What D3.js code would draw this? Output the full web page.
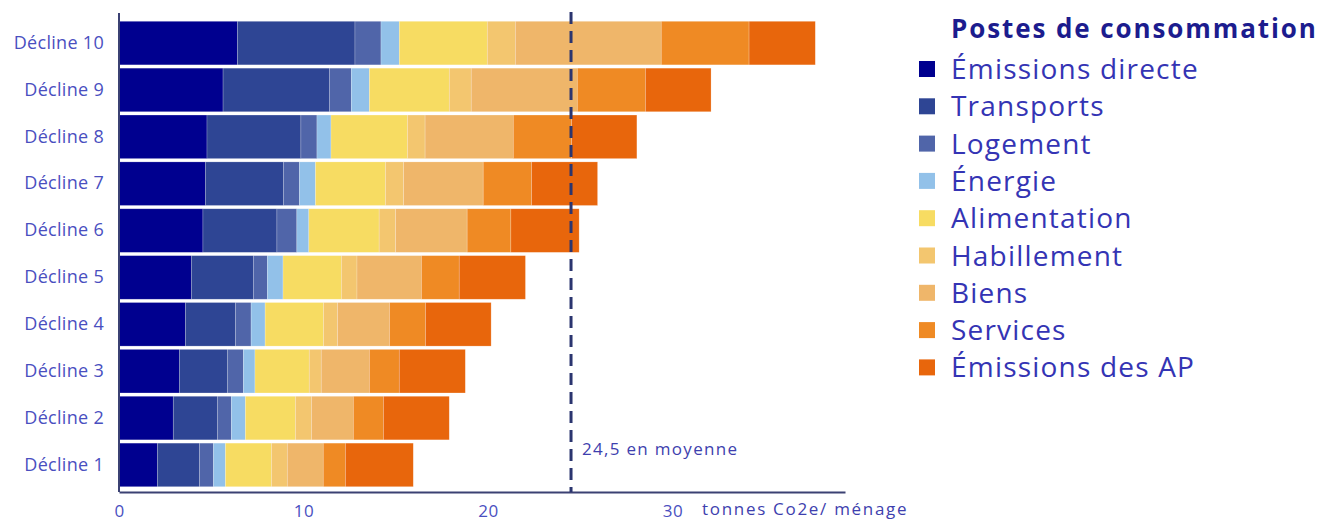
<!DOCTYPE html>
<html>
<head>
<meta charset="utf-8">
<script src="https://cdn.jsdelivr.net/npm/d3@7"></script>
<style>
  body { margin: 0; background: #fff; font-family: "Open Sans", sans-serif; }
</style>
</head>
<body>
<div id="chart"></div>
<script>
// categories (top to bottom)
const deciles = ['Décline 10', 'Décline 9', 'Décline 8', 'Décline 7', 'Décline 6',
                 'Décline 5', 'Décline 4', 'Décline 3', 'Décline 2', 'Décline 1'];

const postes = ['Émissions directe', 'Transports', 'Logement', 'Énergie', 'Alimentation',
                'Habillement', 'Biens', 'Services', 'Émissions des AP'];

const colors = ['#00008f', '#2e4594', '#5065a9', '#92c1e9', '#f7dc62',
                '#f3c66f', '#efb66a', '#ef8a24', '#e8660c'];

// tonnes CO2e per poste, same order as deciles
const directe      = [6.42, 5.64, 4.77, 4.68, 4.55, 3.92, 3.60, 3.27, 2.94, 2.08];
const transports   = [6.37, 5.76, 5.09, 4.23, 4.01, 3.36, 2.71, 2.60, 2.39, 2.28];
const logement     = [1.41, 1.19, 0.87, 0.87, 1.08, 0.76, 0.85, 0.87, 0.76, 0.76];
const energie      = [0.99, 0.98, 0.76, 0.87, 0.65, 0.85, 0.76, 0.63, 0.76, 0.65];
const alimentation = [4.77, 4.33, 4.14, 3.79, 3.81, 3.16, 3.16, 2.94, 2.71, 2.49];
const habillement  = [1.52, 1.19, 0.96, 0.98, 0.89, 0.85, 0.76, 0.65, 0.87, 0.86];
const biens        = [7.91, 5.75, 4.78, 4.32, 3.88, 3.49, 2.82, 2.61, 2.27, 1.95];
const services     = [4.76, 3.69, 3.16, 2.62, 2.37, 2.05, 1.95, 1.62, 1.63, 1.20];
const emissionsAP  = [3.59, 3.56, 3.54, 3.58, 3.70, 3.59, 3.56, 3.58, 3.57, 3.68];

const moyenne = 24.5;
const xTicks = [0, 10, 20, 30];

const series = [directe, transports, logement, energie, alimentation,
                habillement, biens, services, emissionsAP];

const rows = deciles.map((d, i) => {
  const r = { decile: d };
  postes.forEach((p, j) => { r[p] = series[j][i]; });
  return r;
});

const svg = d3.select('#chart')
  .append('svg')
  .attr('width', 1323)
  .attr('height', 522);

const xScale = d3.scaleLinear()
  .domain([0, 39.35])
  .range([119, 845]);

const yScale = d3.scaleBand()
  .domain(deciles)
  .range([18, 490])
  .padding(0.07);

const stacked = d3.stack().keys(postes)(rows);
const color = d3.scaleOrdinal().domain(postes).range(colors);

// Bars
svg.append('g')
  .selectAll('g')
  .data(stacked)
  .enter()
  .append('g')
  .attr('fill', d => color(d.key))
  .selectAll('rect')
  .data(d => d)
  .enter()
  .append('rect')
  .attr('x', d => xScale(d[0]))
  .attr('y', d => yScale(d.data.decile))
  .attr('width', d => xScale(d[1]) - xScale(d[0]))
  .attr('height', yScale.bandwidth())
  .attr('stroke', '#fff')
  .attr('stroke-opacity', 0.35)
  .attr('stroke-width', 0.6);

// Axes
const axisColor = '#3b4173';
const labelColor = '#4a4fbf';

svg.append('line')
  .attr('x1', 119).attr('x2', 119)
  .attr('y1', 13).attr('y2', 492)
  .attr('stroke', axisColor)
  .attr('stroke-width', 2);

const xAxis = svg.append('g')
  .attr('transform', 'translate(0,492)')
  .call(d3.axisBottom(xScale).tickValues(xTicks).tickSize(0).tickPadding(13));
xAxis.select('.domain').attr('stroke', axisColor).attr('stroke-width', 2);
xAxis.selectAll('text')
  .attr('fill', labelColor)
  .style('font-family', '"Open Sans", sans-serif')
  .style('font-size', '17px')
  .style('letter-spacing', '0.5px');

svg.append('text')
  .attr('x', 702)
  .attr('y', 515)
  .attr('fill', '#3e3fae')
  .style('font-size', '17px')
  .style('letter-spacing', '1.7px')
  .text('tonnes Co2e/ ménage');

const yAxis = svg.append('g')
  .attr('transform', 'translate(104,0)')
  .call(d3.axisLeft(yScale).tickSize(0).tickPadding(0));
yAxis.select('.domain').remove();
yAxis.selectAll('text')
  .attr('fill', labelColor)
  .style('font-family', '"Open Sans", sans-serif')
  .style('font-size', '18px')
  .style('letter-spacing', '0.3px');

// Average line
svg.append('line')
  .attr('x1', xScale(moyenne)).attr('x2', xScale(moyenne))
  .attr('y1', 12).attr('y2', 492)
  .attr('stroke', '#2b356f')
  .attr('stroke-width', 3)
  .attr('stroke-dasharray', '12,7');

svg.append('text')
  .attr('x', xScale(moyenne) + 11)
  .attr('y', 455)
  .attr('fill', '#3e3fae')
  .style('font-size', '17px')
  .style('letter-spacing', '1.3px')
  .text('24,5 en moyenne');

// Legend
const legend = svg.append('g');

legend.append('text')
  .attr('x', 951)
  .attr('y', 38)
  .attr('fill', '#1c1c8e')
  .style('font-size', '26px')
  .style('font-weight', 'bold')
  .style('letter-spacing', '1.9px')
  .text('Postes de consommation');

const item = legend.selectAll('.item')
  .data(postes)
  .enter()
  .append('g')
  .attr('class', 'item')
  .attr('transform', (d, i) => `translate(0, ${69 + i * 37.3})`);

item.append('rect')
  .attr('x', 919)
  .attr('y', -8)
  .attr('width', 16)
  .attr('height', 16)
  .attr('fill', d => color(d));

item.append('text')
  .attr('x', 951)
  .attr('y', 10)
  .attr('fill', '#3434b4')
  .style('font-size', '28px')
  .style('letter-spacing', '1.2px')
  .text(d => d);
</script>
</body>
</html>
